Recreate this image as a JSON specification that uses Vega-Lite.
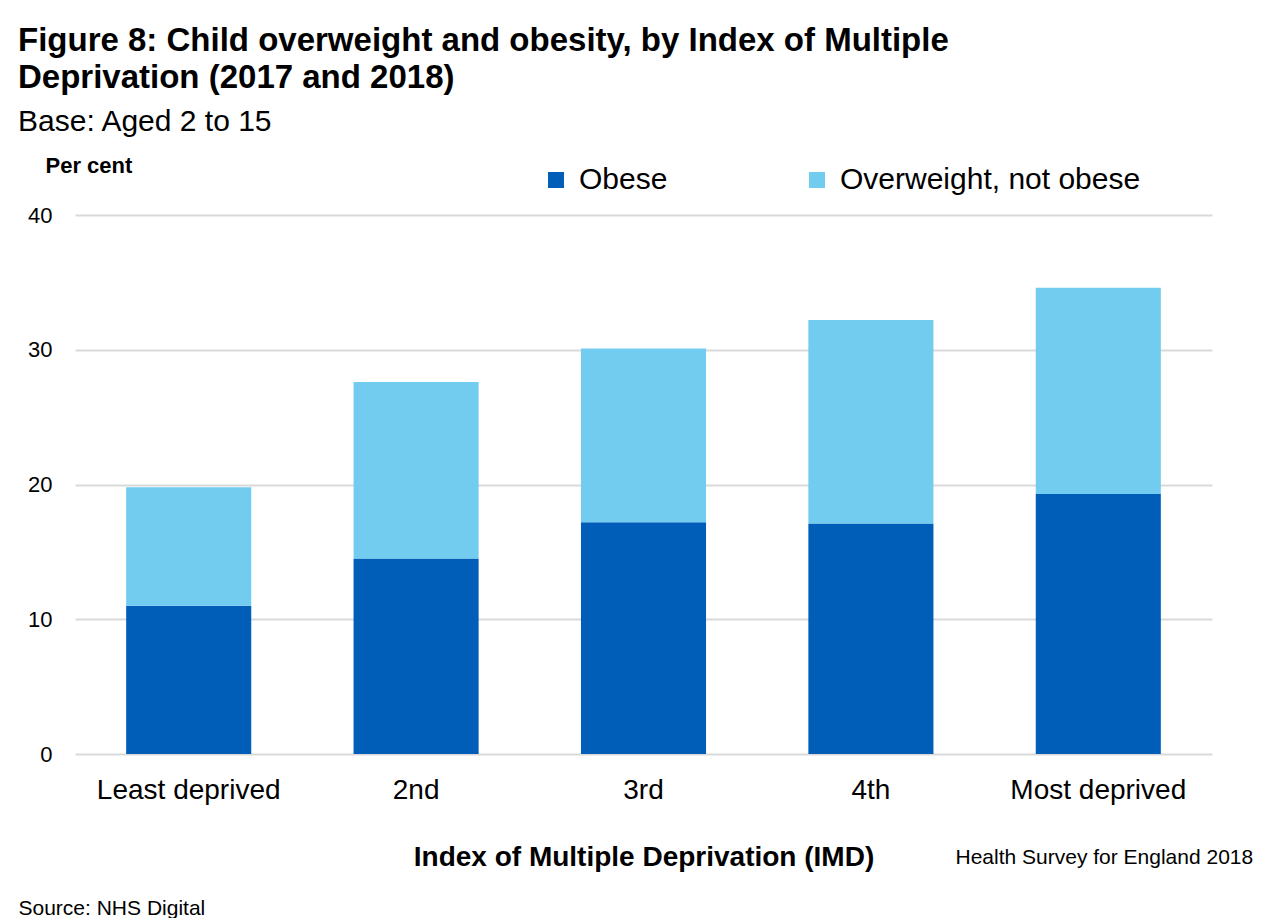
{
  "$schema": "https://vega.github.io/schema/vega-lite/v6.json",
  "width": 1137,
  "height": 539,
  "autosize": {"type": "none"},
  "padding": {"left": 75, "top": 215, "right": 72, "bottom": 164},
  "background": "#ffffff",
  "config": {
    "font": "Liberation Sans, Arial, sans-serif",
    "view": {"stroke": null}
  },
  "title": {
    "text": ["Figure 8: Child overweight and obesity, by Index of Multiple", "Deprivation (2017 and 2018)"],
    "subtitle": "Base: Aged 2 to 15",
    "anchor": "start",
    "frame": "group",
    "dx": -57,
    "offset": 17,
    "fontSize": 33,
    "fontWeight": "bold",
    "lineHeight": 37,
    "color": "#000000",
    "subtitleFontSize": 30,
    "subtitleColor": "#000000",
    "subtitlePadding": 12
  },
  "data": {
    "values": [
      {"imd": "Least deprived", "group": "Obese", "value": 11.0},
      {"imd": "Least deprived", "group": "Overweight, not obese", "value": 8.8},
      {"imd": "2nd", "group": "Obese", "value": 14.5},
      {"imd": "2nd", "group": "Overweight, not obese", "value": 13.1},
      {"imd": "3rd", "group": "Obese", "value": 17.2},
      {"imd": "3rd", "group": "Overweight, not obese", "value": 12.9},
      {"imd": "4th", "group": "Obese", "value": 17.1},
      {"imd": "4th", "group": "Overweight, not obese", "value": 15.1},
      {"imd": "Most deprived", "group": "Obese", "value": 19.3},
      {"imd": "Most deprived", "group": "Overweight, not obese", "value": 15.3}
    ]
  },
  "layer": [
    {
      "mark": {"type": "bar"},
      "encoding": {
        "x": {
          "field": "imd",
          "type": "nominal",
          "sort": ["Least deprived", "2nd", "3rd", "4th", "Most deprived"],
          "scale": {"paddingInner": 0.45, "paddingOuter": 0.225},
          "axis": {
            "title": "Index of Multiple Deprivation (IMD)",
            "titleFontSize": 28,
            "titleFontWeight": "bold",
            "titleColor": "#000000",
            "titleY": 103,
            "titleBaseline": "middle",
            "labelAngle": 0,
            "labelFontSize": 28,
            "labelLimit": 0,
            "labelColor": "#000000",
            "labelPadding": 22,
            "ticks": false,
            "tickSize": 0,
            "domain": false,
            "grid": false
          }
        },
        "y": {
          "field": "value",
          "type": "quantitative",
          "stack": "zero",
          "scale": {"domain": [0, 40]},
          "axis": {
            "title": "Per cent",
            "titleAngle": 0,
            "titleAlign": "left",
            "titleBaseline": "middle",
            "titleX": -30,
            "titleY": -50,
            "titleFontSize": 22,
            "titleFontWeight": "bold",
            "titleColor": "#000000",
            "values": [0, 10, 20, 30, 40],
            "labelFontSize": 22,
            "labelColor": "#000000",
            "labelPadding": 23,
            "ticks": false,
            "tickSize": 0,
            "domain": false,
            "grid": true,
            "gridColor": "#d9d9d9",
            "gridWidth": 2
          }
        },
        "order": {"field": "group", "type": "nominal", "sort": "ascending"},
        "color": {
          "field": "group",
          "type": "nominal",
          "scale": {"domain": ["Obese", "Overweight, not obese"], "range": ["#005EB8", "#71CCEF"]},
          "legend": {
            "title": null,
            "orient": "none",
            "direction": "horizontal",
            "legendX": 466,
            "legendY": -50,
            "padding": 0,
            "symbolType": "square",
            "symbolSize": 256,
            "symbolStrokeWidth": 0,
            "labelFontSize": 30,
            "labelLimit": 0,
            "labelColor": "#000000",
            "labelOffset": 8,
            "columnPadding": 134
          }
        }
      }
    },
    {
      "mark": {"type": "bar", "opacity": 0},
      "encoding": {
        "x": {
          "field": "imd",
          "type": "nominal",
          "sort": ["Least deprived", "2nd", "3rd", "4th", "Most deprived"],
          "axis": {
            "orient": "top",
            "title": "Source: NHS  Digital",
            "titleFontSize": 21,
            "titleFontWeight": "normal",
            "titleColor": "#000000",
            "titleAlign": "left",
            "titleBaseline": "middle",
            "titleX": -57,
            "titleY": 693,
            "labels": false,
            "ticks": false,
            "domain": false,
            "grid": false
          }
        },
        "y": {
          "field": "value",
          "type": "quantitative",
          "stack": "zero",
          "axis": {
            "orient": "right",
            "title": "Health Survey for England 2018",
            "titleAngle": 0,
            "titleFontSize": 21,
            "titleFontWeight": "normal",
            "titleColor": "#000000",
            "titleAlign": "left",
            "titleBaseline": "middle",
            "titleX": -257,
            "titleY": 642,
            "labels": false,
            "ticks": false,
            "domain": false,
            "grid": false
          }
        },
        "order": {"field": "group", "type": "nominal", "sort": "ascending"},
        "color": {"field": "group", "type": "nominal"}
      }
    }
  ],
  "resolve": {"axis": {"x": "independent", "y": "independent"}}
}
